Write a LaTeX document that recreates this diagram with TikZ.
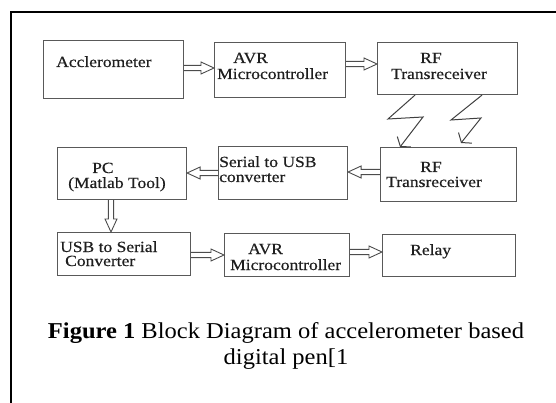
\documentclass[tikz,border=0pt]{standalone}
\usepackage{fontspec}
\setmainfont{Liberation Serif}[FakeStretch=1.08]
\newfontfamily\blockfont{Liberation Serif}[FakeStretch=1.13, FakeBold=0.5]
\usetikzlibrary{calc,arrows.meta}

\tikzset{
  block/.style={draw=black!65, line width=1.1pt, anchor=north west, inner sep=0pt},
  lbl/.style={anchor=base west, inner sep=0pt, text=black!88,
              font=\blockfont\fontsize{15.5}{18}\selectfont},
  % hollow double-shaft arrow with an open triangular head
  hollow/.style={draw=black!70, line width=0.9pt, line join=miter,
    to path={
      ($(\tikztostart)!2.6pt!90:(\tikztotarget)$)
      -- ($(\tikztotarget)!13pt!(\tikztostart)!2.6pt!90:(\tikztotarget)$)
      -- ($(\tikztotarget)!13pt!(\tikztostart)!6pt!90:(\tikztotarget)$)
      -- (\tikztotarget)
      -- ($(\tikztotarget)!13pt!(\tikztostart)!6pt!-90:(\tikztotarget)$)
      -- ($(\tikztotarget)!13pt!(\tikztostart)!2.6pt!-90:(\tikztotarget)$)
      -- ($(\tikztostart)!2.6pt!-90:(\tikztotarget)$)
    }},
  bolt/.style={draw=black!75, line width=1pt, line join=miter,
    -{Straight Barb[length=6pt,width=17pt,line width=1pt]}},
}

\begin{document}
\begin{tikzpicture}[x=1pt,y=-1pt]
\useasboundingbox (0,0) rectangle (556,403);

% outer frame (top and left edges)
\draw[line width=2.6pt] (11,403) -- (11,12) -- (556,12);

% blocks
\node[block, minimum width=140pt, minimum height=58pt] (acc)   at (43,40)   {};
\node[block, minimum width=131pt, minimum height=55pt] (avrA)  at (214,42)  {};
\node[block, minimum width=140pt, minimum height=52pt] (rfA)   at (377,42)  {};
\node[block, minimum width=129pt, minimum height=52pt] (pc)    at (57,147)  {};
\node[block, minimum width=129pt, minimum height=53pt] (ser)   at (218,146) {};
\node[block, minimum width=136pt, minimum height=54pt] (rfB)   at (380,147) {};
\node[block, minimum width=133pt, minimum height=43pt] (usb)   at (57,232)  {};
\node[block, minimum width=125pt, minimum height=43pt] (avrB)  at (224,233) {};
\node[block, minimum width=133pt, minimum height=42pt] (relay) at (382,234) {};

% block labels
\node[lbl] (accT)  at (56,67)   {Acclerometer};
\node[lbl] (avrA1) at (233,63)  {AVR};
\node[lbl] (avrA2) at (217,79)  {Microcontroller};
\node[lbl] (rfA1)  at (420,63)  {RF};
\node[lbl] (rfA2)  at (391,79)  {Transreceiver};
\node[lbl] (pc1)   at (92,173)  {PC};
\node[lbl] (pc2)   at (68,188)  {(Matlab Tool)};
\node[lbl] (ser1)  at (219,167) {Serial to USB};
\node[lbl] (ser2)  at (219,182) {converter};
\node[lbl] (rfB1)  at (420,172) {RF};
\node[lbl] (rfB2)  at (386,187) {Transreceiver};
\node[lbl] (usb1)  at (60,252)  {USB to Serial};
\node[lbl] (usb2)  at (65,266)  {Converter};
\node[lbl] (avrB1) at (248,254) {AVR};
\node[lbl] (avrB2) at (230,270) {Microcontroller};
\node[lbl] (rel1)  at (410,255) {Relay};

% data-flow arrows
\draw[hollow] (acc.east |- 0,68)   to (avrA.west |- 0,68);
\draw[hollow] (avrA.east |- 0,64)  to (rfA.west |- 0,64);
\draw[hollow] (rfB.west |- 0,172)  to (ser.east |- 0,172);
\draw[hollow] (ser.west |- 0,173)  to (pc.east |- 0,173);
\draw[hollow] (pc.south -| 111,0)  to (usb.north -| 111,0);
\draw[hollow] (usb.east |- 0,255)  to (avrB.west |- 0,255);
\draw[hollow] (avrB.east |- 0,252) to (relay.west |- 0,252);

% wireless link
\coordinate (boltEnd) at (461,143);
\draw[bolt] (rfA.south -| 415,0) -- (388,119) -- (423,117) -- (rfB.north -| 400,0);
\draw[bolt] (rfA.south -| 482,0) -- (451,120) -- (481,118) -- (boltEnd);

% caption (base anchor sits on the last line)
\node[align=center, inner sep=0pt, anchor=base, text=black,
      font=\fontsize{22.7}{26}\selectfont] (cap) at (286,364)
  {\textbf{Figure 1} Block Diagram of accelerometer based\\digital pen[1};
\end{tikzpicture}
\end{document}
